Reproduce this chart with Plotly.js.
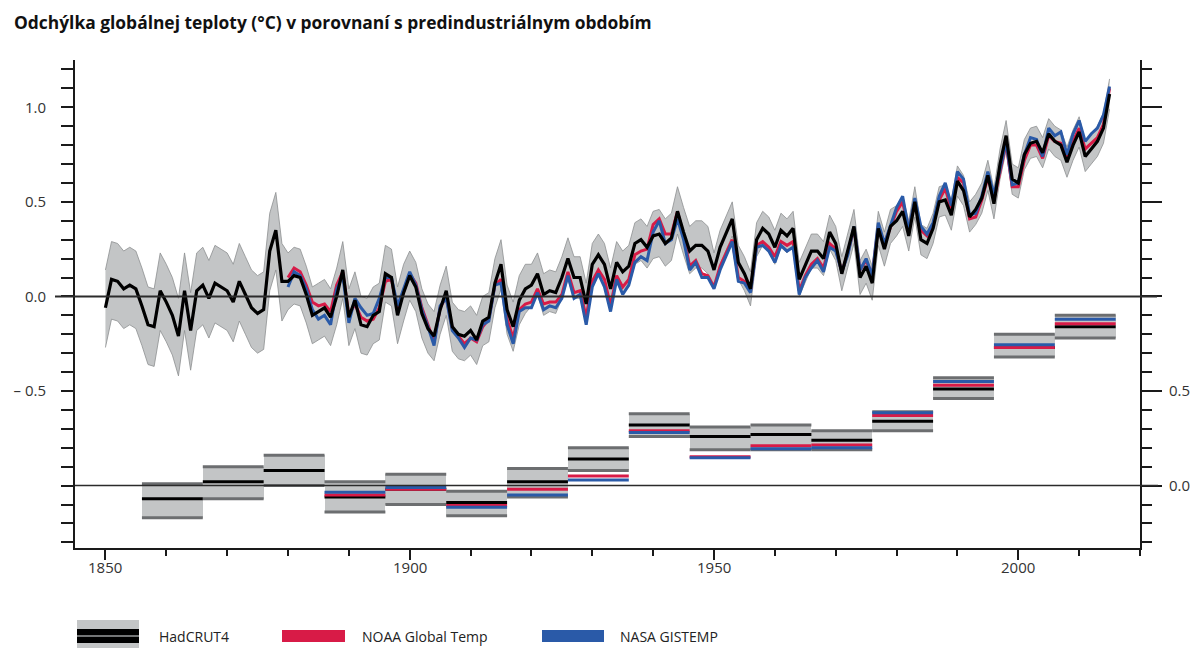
<!DOCTYPE html>
<html>
<head>
<meta charset="utf-8">
<script src="https://cdn.plot.ly/plotly-3.0.1.min.js"></script>
<style>
html,body{margin:0;padding:0;background:#fff;}
#chart{width:1198px;height:648px;}
</style>
</head>
<body>
<div id="chart"></div>
<script>
// ---------- DATA ----------
const titleText = 'Odchýlka globálnej teploty (°C) v porovnaní s predindustriálnym obdobím';
const seriesNames = ['HadCRUT4', 'NOAA Global Temp', 'NASA GISTEMP'];

const hadStartYear = 1850;
const hadcrut4 = [
 -0.06, 0.09, 0.08, 0.04, 0.06, 0.04, -0.05, -0.15, -0.16, 0.03,
 -0.03, -0.10, -0.21, 0.03, -0.18, 0.03, 0.06, -0.01, 0.07, 0.05,
 0.03, -0.03, 0.08, 0.01, -0.06, -0.09, -0.07, 0.24, 0.35, 0.08,
 0.08, 0.11, 0.10, 0.01, -0.10, -0.08, -0.06, -0.11, 0.00, 0.14,
 -0.11, -0.02, -0.15, -0.16, -0.10, -0.08, 0.12, 0.10, -0.10, 0.02,
 0.11, 0.05, -0.09, -0.17, -0.21, -0.07, 0.03, -0.16, -0.20, -0.21,
 -0.18, -0.23, -0.13, -0.11, 0.07, 0.17, -0.07, -0.16, -0.02, 0.04,
 0.06, 0.12, 0.01, 0.03, 0.02, 0.10, 0.20, 0.10, 0.10, -0.04,
 0.17, 0.22, 0.17, 0.04, 0.18, 0.13, 0.16, 0.28, 0.30, 0.26,
 0.32, 0.33, 0.28, 0.31, 0.45, 0.34, 0.24, 0.27, 0.27, 0.24,
 0.14, 0.26, 0.34, 0.41, 0.18, 0.12, 0.04, 0.30, 0.36, 0.33,
 0.26, 0.35, 0.32, 0.36, 0.09, 0.17, 0.24, 0.24, 0.20, 0.34,
 0.28, 0.12, 0.25, 0.37, 0.10, 0.16, 0.07, 0.36, 0.25, 0.37,
 0.40, 0.45, 0.32, 0.50, 0.30, 0.28, 0.36, 0.50, 0.51, 0.43,
 0.61, 0.56, 0.42, 0.46, 0.52, 0.64, 0.49, 0.70, 0.85, 0.62,
 0.60, 0.75, 0.81, 0.82, 0.76, 0.86, 0.82, 0.80, 0.71, 0.80,
 0.87, 0.74, 0.78, 0.82, 0.89, 1.07
];
const hadLower = [
 -0.27, -0.12, -0.13, -0.17, -0.15, -0.17, -0.26, -0.36, -0.37, -0.18,
 -0.24, -0.31, -0.42, -0.18, -0.39, -0.18, -0.15, -0.22, -0.14, -0.16,
 -0.18, -0.24, -0.13, -0.20, -0.27, -0.30, -0.28, 0.03, 0.14, -0.13,
 -0.07, -0.04, -0.05, -0.14, -0.25, -0.23, -0.21, -0.26, -0.15, -0.01,
 -0.26, -0.17, -0.30, -0.31, -0.25, -0.23, -0.03, -0.05, -0.25, -0.13,
 -0.02, -0.08, -0.22, -0.30, -0.34, -0.20, -0.10, -0.29, -0.33, -0.34,
 -0.31, -0.36, -0.26, -0.24, -0.06, 0.04, -0.20, -0.29, -0.15, -0.09,
 -0.05, 0.01, -0.10, -0.08, -0.09, -0.01, 0.09, -0.01, -0.01, -0.15,
 0.06, 0.11, 0.06, -0.07, 0.07, 0.02, 0.05, 0.17, 0.19, 0.15,
 0.20, 0.21, 0.16, 0.19, 0.33, 0.22, 0.12, 0.15, 0.15, 0.12,
 0.05, 0.17, 0.25, 0.32, 0.09, 0.03, -0.05, 0.21, 0.27, 0.24,
 0.17, 0.26, 0.23, 0.27, 0.00, 0.08, 0.15, 0.15, 0.11, 0.25,
 0.19, 0.03, 0.16, 0.28, 0.01, 0.07, -0.02, 0.27, 0.16, 0.28,
 0.32, 0.37, 0.24, 0.42, 0.22, 0.20, 0.28, 0.42, 0.43, 0.35,
 0.53, 0.48, 0.34, 0.38, 0.44, 0.56, 0.41, 0.62, 0.77, 0.54,
 0.52, 0.67, 0.73, 0.74, 0.68, 0.78, 0.74, 0.72, 0.63, 0.72,
 0.79, 0.66, 0.70, 0.74, 0.81, 0.99
];
const hadUpper = [
 0.14, 0.29, 0.28, 0.24, 0.26, 0.24, 0.15, 0.05, 0.04, 0.23,
 0.17, 0.10, -0.01, 0.23, 0.02, 0.23, 0.26, 0.19, 0.27, 0.25,
 0.23, 0.17, 0.28, 0.21, 0.14, 0.11, 0.13, 0.44, 0.55, 0.28,
 0.23, 0.26, 0.25, 0.16, 0.05, 0.07, 0.09, 0.04, 0.15, 0.29,
 0.04, 0.13, 0.00, -0.01, 0.05, 0.07, 0.27, 0.25, 0.05, 0.17,
 0.24, 0.18, 0.04, -0.04, -0.08, 0.06, 0.16, -0.03, -0.07, -0.08,
 -0.05, -0.10, 0.00, 0.02, 0.20, 0.30, 0.06, -0.03, 0.11, 0.17,
 0.17, 0.23, 0.12, 0.14, 0.13, 0.21, 0.31, 0.21, 0.21, 0.07,
 0.28, 0.33, 0.28, 0.15, 0.29, 0.24, 0.27, 0.39, 0.41, 0.37,
 0.45, 0.46, 0.41, 0.44, 0.58, 0.47, 0.37, 0.40, 0.40, 0.37,
 0.23, 0.35, 0.43, 0.50, 0.27, 0.21, 0.13, 0.39, 0.45, 0.42,
 0.35, 0.44, 0.41, 0.45, 0.18, 0.26, 0.33, 0.33, 0.29, 0.43,
 0.37, 0.21, 0.34, 0.46, 0.19, 0.25, 0.16, 0.45, 0.34, 0.46,
 0.48, 0.53, 0.40, 0.58, 0.38, 0.36, 0.44, 0.58, 0.59, 0.51,
 0.69, 0.64, 0.50, 0.54, 0.60, 0.72, 0.57, 0.78, 0.93, 0.70,
 0.68, 0.83, 0.89, 0.90, 0.84, 0.94, 0.90, 0.88, 0.79, 0.88,
 0.95, 0.82, 0.86, 0.90, 0.97, 1.15
];

const gisStartYear = 1880;
const noaa = [
 0.10, 0.15, 0.13, 0.06, -0.03, -0.05, -0.04, -0.08, 0.06, 0.13,
 -0.10, -0.04, -0.11, -0.13, -0.12, -0.06, 0.08, 0.09, -0.07, 0.03,
 0.12, 0.07, -0.06, -0.15, -0.24, -0.06, 0.00, -0.17, -0.21, -0.25,
 -0.22, -0.24, -0.16, -0.12, 0.06, 0.09, -0.12, -0.22, -0.07, -0.04,
 -0.03, 0.04, -0.04, -0.03, -0.03, 0.01, 0.13, 0.02, 0.03, -0.11,
 0.08, 0.14, 0.09, -0.05, 0.11, 0.05, 0.09, 0.22, 0.24, 0.25,
 0.38, 0.41, 0.33, 0.33, 0.45, 0.32, 0.16, 0.19, 0.12, 0.11,
 0.05, 0.16, 0.23, 0.30, 0.10, 0.08, 0.03, 0.27, 0.29, 0.26,
 0.21, 0.29, 0.27, 0.29, 0.03, 0.11, 0.17, 0.20, 0.15, 0.28,
 0.25, 0.13, 0.23, 0.36, 0.14, 0.19, 0.11, 0.37, 0.28, 0.36,
 0.45, 0.50, 0.35, 0.50, 0.35, 0.32, 0.38, 0.51, 0.57, 0.46,
 0.63, 0.60, 0.41, 0.42, 0.51, 0.63, 0.51, 0.66, 0.81, 0.58,
 0.58, 0.72, 0.80, 0.80, 0.73, 0.85, 0.82, 0.81, 0.72, 0.82,
 0.89, 0.78, 0.81, 0.84, 0.91, 1.10
];
const nasa = [
 0.05, 0.13, 0.11, 0.04, -0.07, -0.12, -0.10, -0.15, 0.04, 0.11,
 -0.14, -0.01, -0.06, -0.10, -0.09, -0.01, 0.10, 0.10, -0.05, 0.04,
 0.13, 0.06, -0.07, -0.16, -0.26, -0.05, -0.01, -0.18, -0.22, -0.27,
 -0.22, -0.23, -0.15, -0.13, 0.06, 0.07, -0.15, -0.25, -0.08, -0.06,
 -0.06, 0.02, -0.07, -0.05, -0.06, -0.01, 0.11, -0.01, 0.01, -0.15,
 0.05, 0.12, 0.05, -0.08, 0.09, 0.01, 0.06, 0.18, 0.21, 0.19,
 0.34, 0.40, 0.28, 0.30, 0.41, 0.30, 0.14, 0.18, 0.10, 0.10,
 0.04, 0.14, 0.22, 0.29, 0.08, 0.07, 0.02, 0.26, 0.27, 0.24,
 0.18, 0.27, 0.24, 0.26, 0.01, 0.10, 0.15, 0.19, 0.13, 0.26,
 0.24, 0.13, 0.22, 0.37, 0.14, 0.20, 0.11, 0.39, 0.28, 0.37,
 0.47, 0.53, 0.35, 0.52, 0.37, 0.33, 0.39, 0.53, 0.60, 0.48,
 0.66, 0.62, 0.43, 0.44, 0.53, 0.66, 0.54, 0.67, 0.82, 0.59,
 0.60, 0.75, 0.84, 0.83, 0.74, 0.89, 0.85, 0.87, 0.75, 0.86,
 0.93, 0.82, 0.86, 0.89, 0.96, 1.11
];

// decadal means (lower panel, own scale on the right)
const decStart = [1856, 1866, 1876, 1886, 1896, 1906, 1916, 1926, 1936, 1946, 1956, 1966, 1976, 1986, 1996, 2006];
const hadDecMean = [-0.07, 0.02, 0.08, -0.06, -0.02, -0.09, 0.02, 0.14, 0.32, 0.26, 0.27, 0.24, 0.34, 0.51, 0.73, 0.84];
const hadDecLow  = [-0.17, -0.07, 0.00, -0.14, -0.10, -0.16, -0.06, 0.08, 0.26, 0.19, 0.19, 0.19, 0.29, 0.46, 0.68, 0.78];
const hadDecHigh = [0.01, 0.10, 0.16, 0.02, 0.06, -0.03, 0.09, 0.20, 0.38, 0.31, 0.32, 0.29, 0.39, 0.57, 0.80, 0.90];
const gisDecFirst = 3; // NOAA / NASA decades start with the 1886 box
const noaaDec = [-0.05, -0.02, -0.105, -0.02, 0.05, 0.29, 0.153, 0.21, 0.215, 0.37, 0.53, 0.73, 0.855];
const nasaDec = [-0.035, -0.01, -0.115, -0.05, 0.03, 0.28, 0.147, 0.195, 0.20, 0.385, 0.55, 0.745, 0.88];

const xTickLabels = ['1850', '1900', '1950', '2000'];
const yLeftTickLabels = ['', '– 0.5', '0.0', '0.5', '1.0'];
const yLeftTickVals = [-1, -0.5, 0, 0.5, 1];
const yRightTickLabels = ['0.0', '0.5', '', '', ''];
const yRightTickVals = [0, 0.5, 1, 1.5, 2];

// ---------- STYLE ----------
const C_BLACK = '#000000', C_RED = '#d81b47', C_BLUE = '#2a5aa8';
const C_BAND = '#c3c5c6', C_BANDLINE = '#8d8f91', C_EDGE = '#6c6e70';
const C_AXIS = '#1a1a1a', C_TEXT = '#333333';
const FONT = 'Open Sans, Noto Sans, sans-serif';

const hadYears = hadcrut4.map((_, i) => hadStartYear + i);
const gisYears = noaa.map((_, i) => gisStartYear + i);

function segments(starts, vals) {
  const x = [], y = [];
  starts.forEach((s, i) => { x.push(s, s + 10, null); y.push(vals[i], vals[i], null); });
  return {x, y};
}
const gisStarts = decStart.slice(gisDecFirst);
const segMean = segments(decStart, hadDecMean);
const segLow = segments(decStart, hadDecLow);
const segHigh = segments(decStart, hadDecHigh);
const segNoaa = segments(gisStarts, noaaDec);
const segNasa = segments(gisStarts, nasaDec);

const traces = [
  {x: hadYears, y: hadLower, type: 'scatter', mode: 'lines', line: {color: C_BANDLINE, width: 0.8}, hoverinfo: 'skip'},
  {x: hadYears, y: hadUpper, type: 'scatter', mode: 'lines', fill: 'tonexty', fillcolor: C_BAND, line: {color: C_BANDLINE, width: 0.8}, hoverinfo: 'skip'},
  {x: gisYears, y: noaa, type: 'scatter', mode: 'lines', name: seriesNames[1], line: {color: C_RED, width: 3}},
  {x: gisYears, y: nasa, type: 'scatter', mode: 'lines', name: seriesNames[2], line: {color: C_BLUE, width: 3}},
  {x: hadYears, y: hadcrut4, type: 'scatter', mode: 'lines', name: seriesNames[0], line: {color: C_BLACK, width: 3.2}},
  // lower panel
  {x: decStart.map(s => s + 5), y: hadDecHigh.map((h, i) => h - hadDecLow[i]), base: hadDecLow, width: decStart.map(() => 10),
   type: 'bar', yaxis: 'y2', marker: {color: C_BAND, line: {width: 0}}, hoverinfo: 'skip'},
  {x: segHigh.x, y: segHigh.y, yaxis: 'y2', type: 'scatter', mode: 'lines', line: {color: C_EDGE, width: 3}, hoverinfo: 'skip'},
  {x: segLow.x, y: segLow.y, yaxis: 'y2', type: 'scatter', mode: 'lines', line: {color: C_EDGE, width: 3}, hoverinfo: 'skip'},
  {x: segMean.x, y: segMean.y, yaxis: 'y2', type: 'scatter', mode: 'lines', line: {color: C_BLACK, width: 3}},
  {x: segNoaa.x, y: segNoaa.y, yaxis: 'y2', type: 'scatter', mode: 'lines', line: {color: C_RED, width: 3}},
  {x: segNasa.x, y: segNasa.y, yaxis: 'y2', type: 'scatter', mode: 'lines', line: {color: C_BLUE, width: 3}}
];

// plot-area pixel helpers for legend (plot area: x 75..1140, y 60..548)
const L = 75, R = 58, T = 60, B = 100, W = 1198 - L - R, H = 648 - T - B;
const px = v => (v - L) / W;
const py = v => (648 - B - v) / H;

const shapes = [
  {type: 'line', xref: 'paper', yref: 'y', x0: px(55), x1: px(1157), y0: 0, y1: 0, line: {color: '#2b2b2b', width: 2}},
  {type: 'line', xref: 'paper', yref: 'y2', x0: 0, x1: px(1158), y0: 0, y1: 0, line: {color: '#2b2b2b', width: 1.5}},
  // legend swatches
  {type: 'rect', xref: 'paper', yref: 'paper', x0: px(77), x1: px(139), y0: py(648), y1: py(620), fillcolor: C_BAND, line: {width: 0}},
  {type: 'rect', xref: 'paper', yref: 'paper', x0: px(77), x1: px(139), y0: py(643), y1: py(629), fillcolor: '#000', line: {width: 0}},
  {type: 'line', xref: 'paper', yref: 'paper', x0: px(77), x1: px(139), y0: py(636), y1: py(636), line: {color: '#9a9c9e', width: 1.5}},
  {type: 'rect', xref: 'paper', yref: 'paper', x0: px(282), x1: px(345), y0: py(642), y1: py(630), fillcolor: C_RED, line: {width: 0}},
  {type: 'rect', xref: 'paper', yref: 'paper', x0: px(542), x1: px(604), y0: py(642), y1: py(630), fillcolor: C_BLUE, line: {width: 0}}
];

const tickFont = {family: FONT, size: 15, color: C_TEXT};
const legendFont = {family: FONT, size: 14, color: '#222'};
const annotations = [
  {xref: 'paper', yref: 'paper', x: px(157), y: py(636), xanchor: 'left', yanchor: 'middle', text: seriesNames[0], showarrow: false, font: legendFont},
  {xref: 'paper', yref: 'paper', x: px(360), y: py(636), xanchor: 'left', yanchor: 'middle', text: seriesNames[1], showarrow: false, font: legendFont},
  {xref: 'paper', yref: 'paper', x: px(618), y: py(636), xanchor: 'left', yanchor: 'middle', text: seriesNames[2], showarrow: false, font: legendFont}
].concat(xTickLabels.map(t => ({
  xref: 'x', yref: 'paper', x: Number(t), y: py(567), xanchor: 'center', yanchor: 'middle',
  text: t, showarrow: false, font: tickFont
})));

const layout = {
  width: 1198, height: 648,
  margin: {l: L, r: R, t: T, b: B, pad: 0},
  paper_bgcolor: '#fff', plot_bgcolor: 'rgba(0,0,0,0)',
  showlegend: false,
  title: {text: '<b>' + titleText + '</b>', x: 14 / 1198, xref: 'container', xanchor: 'left',
          y: 1 - 23 / 648, yref: 'container', yanchor: 'middle',
          font: {family: FONT, size: 17.4, color: '#111'}},
  xaxis: {range: [1845, 2020], showgrid: false, zeroline: false, showline: true, linecolor: C_AXIS, linewidth: 2,
          ticks: 'outside', ticklen: 10, tickwidth: 2, tickcolor: C_AXIS, showticklabels: false,
          tickmode: 'array', tickvals: xTickLabels.map(Number), ticktext: xTickLabels,
          minor: {tickmode: 'linear', tick0: 1850, dtick: 10, ticks: 'outside', ticklen: 6, tickwidth: 2, tickcolor: C_AXIS, showgrid: false},
          fixedrange: true},
  yaxis: {range: [-1.33, 1.25], showgrid: false, zeroline: false, showline: true, linecolor: C_AXIS, linewidth: 2,
          ticks: 'outside', ticklen: 12, tickwidth: 2, tickcolor: C_AXIS, ticklabelstandoff: 12,
          tickmode: 'array', tickvals: yLeftTickVals, ticktext: yLeftTickLabels, tickfont: tickFont,
          minor: {tickmode: 'linear', tick0: 0, dtick: 0.1, ticks: 'outside', ticklen: 12, tickwidth: 2, tickcolor: C_AXIS, showgrid: false},
          fixedrange: true},
  yaxis2: {overlaying: 'y', side: 'right', range: [-0.33, 2.25], showgrid: false, zeroline: false, showline: true,
           linecolor: C_AXIS, linewidth: 2, ticks: 'outside', ticklen: 20, tickwidth: 2, tickcolor: C_AXIS, ticklabelstandoff: 4,
           tickmode: 'array', tickvals: yRightTickVals, ticktext: yRightTickLabels, tickfont: tickFont,
           minor: {tickmode: 'linear', tick0: 0, dtick: 0.1, ticks: 'outside', ticklen: 10, tickwidth: 2, tickcolor: C_AXIS, showgrid: false},
           fixedrange: true},
  bargap: 0,
  shapes: shapes,
  annotations: annotations
};

Plotly.newPlot('chart', traces, layout, {displayModeBar: false, staticPlot: true});
</script>
</body>
</html>
